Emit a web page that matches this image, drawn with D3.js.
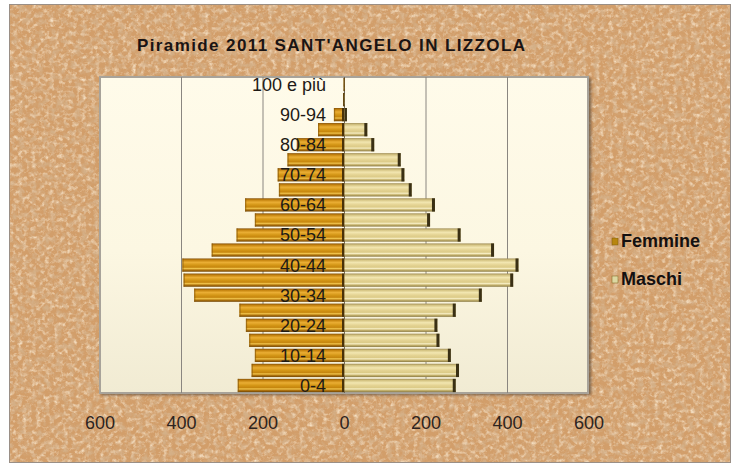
<!DOCTYPE html>
<html><head><meta charset="utf-8">
<script src="https://cdn.jsdelivr.net/npm/d3@7"></script>
<style>
html,body{margin:0;padding:0;background:#fff;}
svg{display:block;}
text{font-family:"Liberation Sans",Arial,sans-serif;}
</style></head>
<body>
<script>
const ageGroups = ["0-4","5-9","10-14","15-19","20-24","25-29","30-34","35-39","40-44","45-49","50-54","55-59","60-64","65-69","70-74","75-79","80-84","85-89","90-94","95-99","100 e più"];
const femmine = [262,228,220,234,242,258,369,395,398,326,265,220,244,161,164,140,117,65,26,3,2];
const maschi  = [273,281,261,233,228,273,337,414,427,367,285,210,222,165,147,138,73,56,6,1,0];
const tickValues = [-600,-400,-200,0,200,400,600];
const gridValues = [-400,-200,200,400];
const seriesNames = ["Femmine","Maschi"];
const titleText = "Piramide 2011  SANT'ANGELO IN LIZZOLA";

const W = 734, H = 466;
const svg = d3.select("body").append("svg").attr("width", W).attr("height", H);
const defs = svg.append("defs");

// cork texture
const f = defs.append("filter").attr("id","cork").attr("x",0).attr("y",0).attr("width","100%").attr("height","100%");
f.append("feTurbulence").attr("type","fractalNoise").attr("baseFrequency","0.16").attr("numOctaves",4).attr("seed",3).attr("result","n");
f.append("feColorMatrix").attr("in","n").attr("type","matrix")
 .attr("values","0 0 0 0 0.66  0 0 0 0 0.43  0 0 0 0 0.24  2.6 0 0 0 -1.15").attr("result","dark");
f.append("feTurbulence").attr("type","fractalNoise").attr("baseFrequency","0.22").attr("numOctaves",3).attr("seed",11).attr("result","n2");
f.append("feColorMatrix").attr("in","n2").attr("type","matrix")
 .attr("values","0 0 0 0 0.92  0 0 0 0 0.76  0 0 0 0 0.57  2.2 0 0 0 -1.0").attr("result","light");
const fm = f.append("feMerge");
fm.append("feMergeNode").attr("in","light");
fm.append("feMergeNode").attr("in","dark");

const blur = defs.append("filter").attr("id","shadow").attr("x","-5%").attr("y","-5%").attr("width","110%").attr("height","110%");
blur.append("feGaussianBlur").attr("stdDeviation",1.5);

const pg = defs.append("linearGradient").attr("id","plotbg").attr("x1",0).attr("y1",0).attr("x2",0).attr("y2",1);
pg.append("stop").attr("offset","0").attr("stop-color","#FFFBEA");
pg.append("stop").attr("offset","0.55").attr("stop-color","#FCF7E2");
pg.append("stop").attr("offset","1").attr("stop-color","#F1EBD3");

function grad(id, stops){
  const g = defs.append("linearGradient").attr("id",id).attr("x1",0).attr("y1",0).attr("x2",0).attr("y2",1);
  stops.forEach(s => g.append("stop").attr("offset",s[0]).attr("stop-color",s[1]));
}
grad("gF", [[0,"#86520A"],[0.12,"#C4820E"],[0.3,"#EAAE34"],[0.5,"#D49616"],[0.66,"#C6860E"],[0.76,"#F0C24A"],[0.87,"#B0740E"],[1,"#704404"]]);
grad("gM", [[0,"#A08D55"],[0.12,"#D4C382"],[0.3,"#F2E6B0"],[0.5,"#E4D393"],[0.66,"#DCCB88"],[0.76,"#F6EDC2"],[0.87,"#C6B36E"],[1,"#8A7A44"]]);

// background
svg.append("rect").attr("x",9).attr("y",4).attr("width",722).attr("height",459).attr("fill","#D29E6A");
svg.append("rect").attr("x",9).attr("y",4).attr("width",722).attr("height",459).attr("filter","url(#cork)");
svg.append("rect").attr("x",9.5).attr("y",4.5).attr("width",721).attr("height",458).attr("fill","none").attr("stroke","#9a8f86").attr("stroke-width",1);

// title
svg.append("text").attr("x",331).attr("y",51).attr("text-anchor","middle")
  .attr("font-size",17).attr("font-weight","bold").attr("fill","#1a1414")
  .attr("textLength",388).attr("lengthAdjust","spacing").text(titleText);

// scales
const x = d3.scaleLinear().domain([-600,600]).range([100,589]);
const y = d3.scaleBand().domain(ageGroups.slice().reverse()).range([77,393]).paddingInner(0.12).paddingOuter(0.06);

const px0 = 100, px1 = 588, py0 = 77, py1 = 393;
// plot shadow + area
svg.append("rect").attr("x",px0+1).attr("y",py0+1).attr("width",px1-px0+2).attr("height",py1-py0+1)
  .attr("fill","#5a4a3a").attr("opacity",0.75).attr("filter","url(#shadow)");
svg.append("rect").attr("x",px0).attr("y",py0).attr("width",px1-px0).attr("height",py1-py0)
  .attr("fill","url(#plotbg)").attr("stroke","#A8A39A").attr("stroke-width",2);

// gridlines
svg.append("g").selectAll("line").data(gridValues).join("line")
  .attr("x1",d=>x(d)).attr("x2",d=>x(d)).attr("y1",py0).attr("y2",py1)
  .attr("stroke","#8a8680").attr("stroke-width",1);

// central axis line
svg.append("line").attr("x1",x(0)).attr("x2",x(0)).attr("y1",py0).attr("y2",py1)
  .attr("stroke","#6e6a64").attr("stroke-width",1);

const bh = y.bandwidth();
// female bars
const gF = svg.append("g");
ageGroups.forEach((a,i)=>{
  const v = femmine[i]; if(v<=0) return;
  const x1 = x(-v), x2 = x(0);
  gF.append("rect").attr("x",x1).attr("y",y(a)).attr("width",x2-x1).attr("height",bh).attr("fill","url(#gF)");
  gF.append("rect").attr("x",x1).attr("y",y(a)).attr("width",Math.min(1.2,x2-x1)).attr("height",bh).attr("fill","#8a5a0a").attr("opacity",0.7);
  gF.append("rect").attr("x",x2-Math.min(2.5,x2-x1)).attr("y",y(a)).attr("width",Math.min(2.5,x2-x1)).attr("height",bh).attr("fill","#4a3208");
});
// male bars
const gM = svg.append("g");
ageGroups.forEach((a,i)=>{
  const v = maschi[i]; if(v<=0) return;
  const x1 = x(0), x2 = x(v);
  gM.append("rect").attr("x",x1).attr("y",y(a)).attr("width",x2-x1).attr("height",bh).attr("fill","url(#gM)");
  gM.append("rect").attr("x",x2-Math.min(3,x2-x1)).attr("y",y(a)).attr("width",Math.min(3,x2-x1)).attr("height",bh).attr("fill","#3a3014");
});

// category labels (every other)
svg.append("g").selectAll("text").data(ageGroups.filter((d,i)=>i%2===0)).join("text")
  .attr("x",326).attr("y",d=>y(d)+bh/2).attr("dy","0.36em").attr("text-anchor","end")
  .attr("font-size",18).attr("fill","#1e1a16").text(d=>d);

// x-axis tick labels
svg.append("g").selectAll("text").data(tickValues).join("text")
  .attr("x",d=>x(d)).attr("y",423).attr("dy","0.36em").attr("text-anchor","middle")
  .attr("font-size",18).attr("fill","#2e2420").text(d=>Math.abs(d));

// legend
const leg = svg.append("g");
const legColors = ["#B8860E","#DCD8A2"];
const legY = [241,279];
seriesNames.forEach((s,i)=>{
  leg.append("rect").attr("x",612).attr("y",legY[i]-3).attr("width",6).attr("height",7).attr("fill",legColors[i]).attr("stroke","#7a5a10").attr("stroke-width",0.5);
  leg.append("text").attr("x",621).attr("y",legY[i]).attr("dy","0.36em")
    .attr("font-size",18).attr("font-weight","bold").attr("fill","#141010").text(s);
});
</script>
</body></html>
